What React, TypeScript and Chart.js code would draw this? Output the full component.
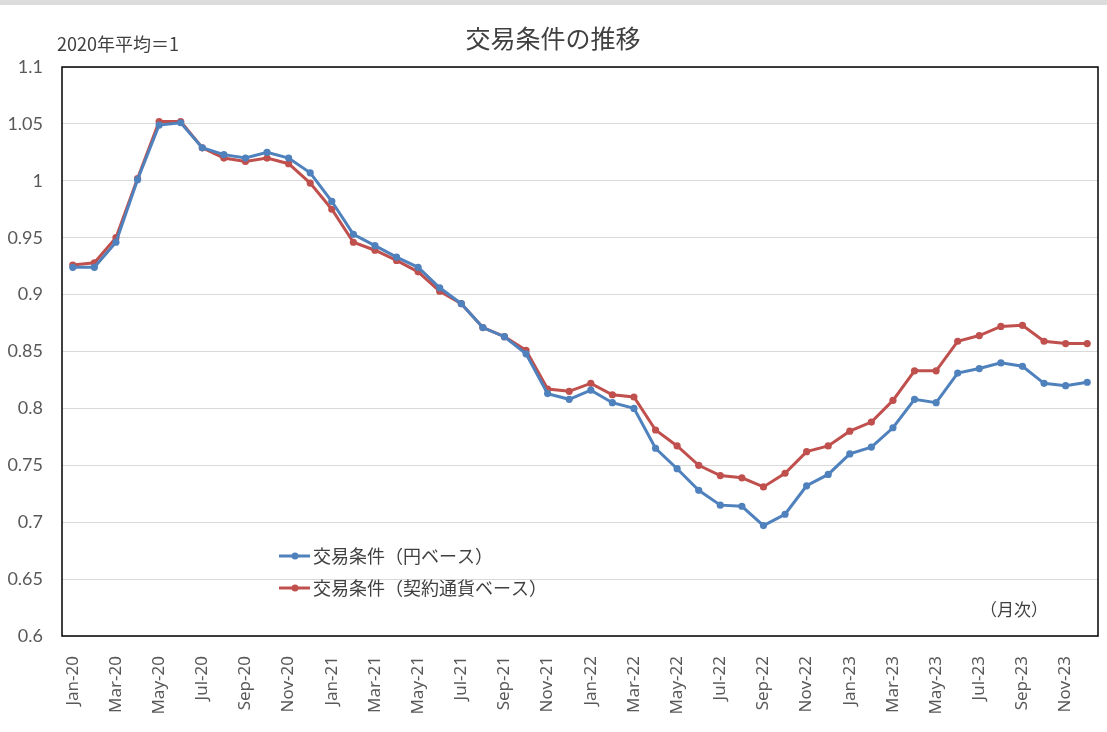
import { useRef, useEffect } from 'react';
import { Chart, registerables } from 'chart.js';
import type { Chart as ChartType, Plugin } from 'chart.js';

Chart.register(...registerables);

const months = [
  'Jan-20', 'Feb-20', 'Mar-20', 'Apr-20', 'May-20', 'Jun-20', 'Jul-20', 'Aug-20', 'Sep-20', 'Oct-20', 'Nov-20', 'Dec-20',
  'Jan-21', 'Feb-21', 'Mar-21', 'Apr-21', 'May-21', 'Jun-21', 'Jul-21', 'Aug-21', 'Sep-21', 'Oct-21', 'Nov-21', 'Dec-21',
  'Jan-22', 'Feb-22', 'Mar-22', 'Apr-22', 'May-22', 'Jun-22', 'Jul-22', 'Aug-22', 'Sep-22', 'Oct-22', 'Nov-22', 'Dec-22',
  'Jan-23', 'Feb-23', 'Mar-23', 'Apr-23', 'May-23', 'Jun-23', 'Jul-23', 'Aug-23', 'Sep-23', 'Oct-23', 'Nov-23', 'Dec-23',
];

// 交易条件（円ベース）
const yenBase = [
  0.924, 0.924, 0.946, 1.001, 1.049, 1.051, 1.029, 1.023, 1.020, 1.025, 1.020, 1.007,
  0.982, 0.953, 0.943, 0.933, 0.924, 0.906, 0.892, 0.871, 0.863, 0.848, 0.813, 0.808,
  0.816, 0.805, 0.800, 0.765, 0.747, 0.728, 0.715, 0.714, 0.697, 0.707, 0.732, 0.742,
  0.760, 0.766, 0.783, 0.808, 0.805, 0.831, 0.835, 0.840, 0.837, 0.822, 0.820, 0.823,
];

// 交易条件（契約通貨ベース）
const contractBase = [
  0.926, 0.928, 0.950, 1.002, 1.052, 1.052, 1.029, 1.020, 1.017, 1.020, 1.015, 0.998,
  0.975, 0.946, 0.939, 0.930, 0.920, 0.903, 0.892, 0.871, 0.863, 0.851, 0.817, 0.815,
  0.822, 0.812, 0.810, 0.781, 0.767, 0.750, 0.741, 0.739, 0.731, 0.743, 0.762, 0.767,
  0.780, 0.788, 0.807, 0.833, 0.833, 0.859, 0.864, 0.872, 0.873, 0.859, 0.857, 0.857,
];

const seriesNames = ['交易条件（円ベース）', '交易条件（契約通貨ベース）'];
const seriesColors = ['#4F81BD', '#C0504D'];

const titleText = '交易条件の推移';
const unitText = '2020年平均＝1';
const freqText = '（月次）';

const JP = '"Noto Sans CJK JP", "Noto Sans", sans-serif';

const overlayPlugin: Plugin<'line'> = {
  id: 'overlay',
  afterDraw(chart) {
    const { ctx, chartArea } = chart;
    ctx.save();
    // plot frame
    ctx.strokeStyle = '#000000';
    ctx.lineWidth = 1.5;
    ctx.strokeRect(chartArea.left, chartArea.top, chartArea.right - chartArea.left, chartArea.bottom - chartArea.top);

    // title
    ctx.fillStyle = '#404040';
    ctx.textBaseline = 'middle';
    ctx.textAlign = 'center';
    ctx.font = `25px ${JP}`;
    ctx.fillText(titleText, 553, 38);

    // unit note
    ctx.textAlign = 'left';
    ctx.font = `18px ${JP}`;
    ctx.fillText(unitText, 57, 44);

    // frequency note
    ctx.font = `17px ${JP}`;
    ctx.fillText(freqText, 980, 610);

    // legend
    const rows = [556, 588];
    rows.forEach((y, i) => {
      ctx.strokeStyle = seriesColors[i];
      ctx.fillStyle = seriesColors[i];
      ctx.lineWidth = 3;
      ctx.beginPath();
      ctx.moveTo(279, y);
      ctx.lineTo(310, y);
      ctx.stroke();
      ctx.beginPath();
      ctx.arc(295, y, 3.5, 0, Math.PI * 2);
      ctx.fill();
      ctx.fillStyle = '#404040';
      ctx.font = `18px ${JP}`;
      ctx.fillText(seriesNames[i], 313, y);
    });
    ctx.restore();
  },
};

const TermsOfTradeChart = () => {
  const canvasRef = useRef<HTMLCanvasElement | null>(null);
  const chartInstance = useRef<ChartType<'line'> | null>(null);

  useEffect(() => {
    const canvas = canvasRef.current;
    if (!canvas) return;
    const ctx = canvas.getContext('2d');
    if (!ctx) return;

    chartInstance.current = new Chart(ctx, {
      type: 'line',
      data: {
        labels: months,
        datasets: [
          {
            label: seriesNames[0],
            data: yenBase,
            borderColor: seriesColors[0],
            backgroundColor: seriesColors[0],
            borderWidth: 3,
            pointRadius: 3.6,
            pointBorderWidth: 0,
            tension: 0,
          },
          {
            label: seriesNames[1],
            data: contractBase,
            borderColor: seriesColors[1],
            backgroundColor: seriesColors[1],
            borderWidth: 3,
            pointRadius: 3.6,
            pointBorderWidth: 0,
            tension: 0,
          },
        ],
      },
      options: {
        responsive: false,
        animation: false,
        layout: { padding: { top: 67, right: 9, left: 0, bottom: 0 } },
        plugins: {
          legend: { display: false },
          tooltip: { enabled: false },
        },
        scales: {
          x: {
            offset: true,
            grid: { display: false },
            border: { display: false },
            afterFit: (scale) => {
              scale.height = 96;
              scale.paddingLeft = 0;
              scale.paddingRight = 0;
            },
            ticks: {
              autoSkip: false,
              maxRotation: 90,
              minRotation: 90,
              padding: 12,
              color: '#595959',
              font: { family: '"Noto Sans", sans-serif', size: 17 },
              callback: (_v, i) => (i % 2 === 0 ? months[i] : ''),
            },
          },
          y: {
            min: 0.6,
            max: 1.1,
            grid: { color: '#D9D9D9', lineWidth: 1, drawTicks: false },
            border: { display: false },
            afterFit: (scale) => {
              scale.width = 62;
            },
            ticks: {
              stepSize: 0.05,
              padding: 19,
              color: '#595959',
              font: { family: 'Lato, sans-serif', size: 18 },
              callback: (v) => String(Math.round((v as number) * 100) / 100),
            },
          },
        },
      },
      plugins: [overlayPlugin],
    });

    return () => {
      chartInstance.current?.destroy();
      chartInstance.current = null;
    };
  }, []);

  return <canvas ref={canvasRef} width={1107} height={732} style={{ display: 'block' }} />;
};

export default function App() {
  useEffect(() => {
    document.body.style.margin = '0';
  }, []);
  return (
    <div style={{ position: 'relative', width: 1107, height: 732, background: '#ffffff' }}>
      <div style={{ position: 'absolute', left: 0, top: 0, width: 1107, height: 5, background: '#DCDCDC' }} />
      <TermsOfTradeChart />
    </div>
  );
}
